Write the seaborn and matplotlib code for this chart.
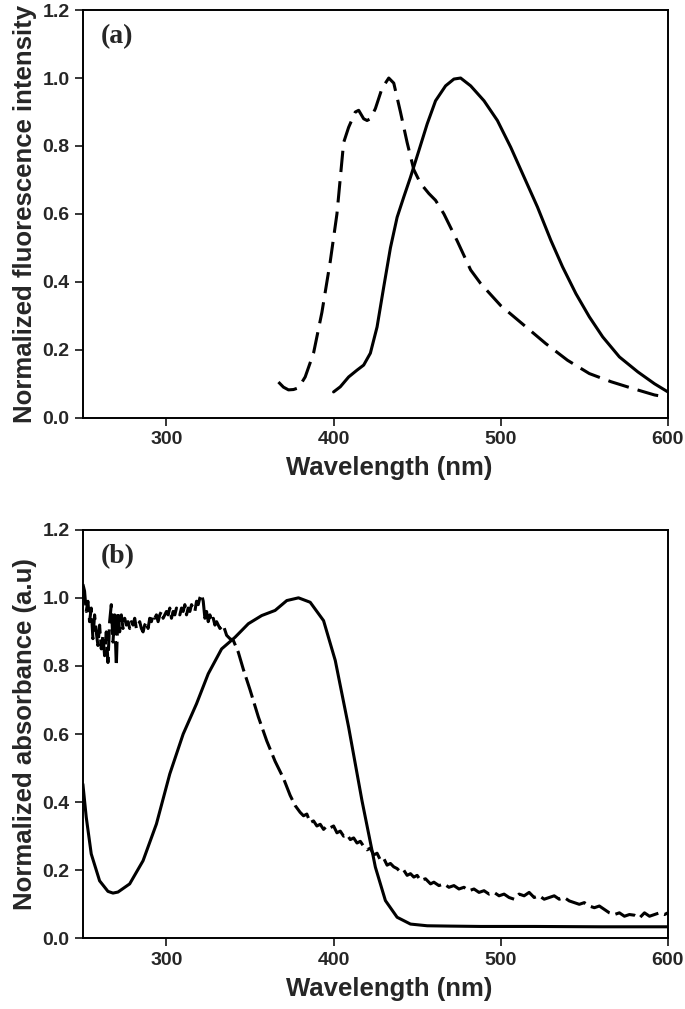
import numpy as np
import pandas as pd
import matplotlib
matplotlib.use("Agg")
import matplotlib.pyplot as plt
import seaborn as sns

# ---- panel (a): fluorescence ----
exc_wl = [367, 370, 373, 376, 379, 383, 388, 393, 398, 402, 406, 409, 413, 415,
          418, 420, 422, 425, 429, 433, 436, 440, 444, 448, 452, 457, 461, 466,
          474, 482, 488, 500, 514, 527, 540, 553, 566, 579, 592, 600]
exc_int = [0.105, 0.09, 0.082, 0.083, 0.088, 0.12, 0.19, 0.31, 0.46, 0.60, 0.81,
           0.855, 0.90, 0.905, 0.88, 0.875, 0.88, 0.91, 0.97, 1.0, 0.985, 0.90,
           0.81, 0.73, 0.69, 0.66, 0.64, 0.60, 0.52, 0.435, 0.395, 0.33, 0.272,
           0.218, 0.169, 0.13, 0.106, 0.086, 0.067, 0.06]

em_wl = [400, 404, 409, 414, 418, 422, 426, 430, 434, 438, 442, 446, 451, 456,
         461, 467, 472, 476, 482, 490, 498, 506, 514, 522, 530, 537, 545, 553,
         561, 571, 582, 592, 600]
em_int = [0.076, 0.091, 0.12, 0.14, 0.155, 0.19, 0.267, 0.385, 0.50, 0.59,
          0.65, 0.708, 0.786, 0.865, 0.933, 0.977, 0.997, 1.0, 0.977, 0.933,
          0.875, 0.796, 0.708, 0.62, 0.522, 0.444, 0.365, 0.297, 0.238, 0.179,
          0.135, 0.10, 0.076]

# ---- panel (b): absorbance ----
abs1_wl = [250, 252, 255, 260, 265, 268, 271, 278, 286, 294, 302, 310, 318, 325,
           333, 341, 349, 357, 365, 372, 379, 386, 394, 401, 409, 417, 425, 431,
           438, 446, 456, 470, 488, 520, 560, 600]
abs1_val = [0.453, 0.356, 0.248, 0.169, 0.138, 0.133, 0.136, 0.16, 0.228, 0.336,
            0.483, 0.60, 0.689, 0.777, 0.85, 0.884, 0.924, 0.948, 0.963, 0.992,
            1.0, 0.987, 0.933, 0.816, 0.62, 0.404, 0.209, 0.111, 0.062, 0.042,
            0.037, 0.036, 0.035, 0.035, 0.034, 0.034]

abs2_wl = list(range(250, 331)) + [
    332, 334, 336, 338, 340, 343, 346, 350, 355, 360, 365, 370, 374, 377, 380,
    382, 384, 386, 388, 390, 392, 394, 396, 398, 400, 402, 404, 406, 408, 410,
    412, 414, 416, 418, 420, 422, 424, 426, 428, 430, 432, 434, 436, 438, 440,
    442, 444, 446, 448, 450, 452, 455, 458, 460, 463, 466, 469, 472, 475, 478,
    481, 484, 487, 490, 493, 496, 499, 502, 505, 508, 511, 514, 517, 520, 523,
    526, 529, 532, 535, 538, 541, 544, 547, 550, 553, 556, 559, 562, 565, 568,
    571, 574, 577, 580, 583, 586, 589, 592, 595, 598, 600]
abs2_val = [
    1.04, 1.02, 0.96, 0.99, 0.93, 0.97, 0.88, 0.95, 0.90, 0.86,
    0.92, 0.85, 0.89, 0.83, 0.90, 0.81, 0.93, 0.98, 0.87, 0.95,
    0.80, 0.96, 0.90, 0.95, 0.91, 0.94, 0.92, 0.93, 0.91, 0.93,
    0.92, 0.94, 0.91, 0.92, 0.93, 0.91, 0.90, 0.92, 0.93, 0.91,
    0.94, 0.93, 0.95, 0.94, 0.95, 0.93, 0.95, 0.96, 0.94, 0.95,
    0.96, 0.95, 0.97, 0.94, 0.96, 0.95, 0.97, 0.96, 0.95, 0.97,
    0.96, 0.98, 0.95, 0.97, 0.96, 0.98, 0.97, 0.96, 0.99, 0.98,
    1.00, 1.01, 0.99, 0.94, 0.96, 0.93, 0.95, 0.93, 0.94, 0.92,
    0.93,
    0.91, 0.92, 0.89, 0.88, 0.875, 0.84, 0.79, 0.73, 0.65, 0.58, 0.52, 0.47,
    0.42, 0.39, 0.37, 0.36, 0.365, 0.34, 0.345, 0.33, 0.335, 0.32, 0.33, 0.325,
    0.33, 0.31, 0.315, 0.30, 0.305, 0.29, 0.295, 0.28, 0.285, 0.27, 0.26,
    0.265, 0.245, 0.25, 0.23, 0.235, 0.215, 0.22, 0.21, 0.205, 0.195, 0.20,
    0.185, 0.19, 0.18, 0.185, 0.17, 0.175, 0.16, 0.165, 0.155, 0.16, 0.15,
    0.155, 0.145, 0.15, 0.14, 0.145, 0.135, 0.14, 0.13, 0.135, 0.125, 0.13,
    0.12, 0.115, 0.13, 0.125, 0.135, 0.12, 0.125, 0.115, 0.12, 0.125, 0.115,
    0.12, 0.11, 0.105, 0.10, 0.105, 0.095, 0.09, 0.095, 0.085, 0.075, 0.07,
    0.075, 0.065, 0.07, 0.068, 0.06, 0.075, 0.065, 0.07, 0.075, 0.07, 0.075]

x_ticks = [300, 400, 500, 600]
y_ticks = [0.0, 0.2, 0.4, 0.6, 0.8, 1.0, 1.2]

sns.set_style("ticks")
plt.rcParams['font.family'] = ['Liberation Sans', 'DejaVu Sans']

fig = plt.figure(figsize=(6.85, 10.09), dpi=100)
ax_a = fig.add_axes([0.121, 0.586, 0.854, 0.404])
ax_b = fig.add_axes([0.121, 0.070, 0.854, 0.405])


def style_axes(ax, ylabel, tag):
    ax.set_xlim(250, 600)
    ax.set_ylim(0, 1.2)
    ax.set_xticks(x_ticks)
    ax.set_yticks(y_ticks)
    ax.set_yticklabels([f"{v:.1f}" for v in y_ticks])
    ax.tick_params(direction='out', length=6, width=1.3, labelsize=14,
                   top=False, right=False)
    for lab in ax.get_xticklabels() + ax.get_yticklabels():
        lab.set_fontweight('bold')
    for sp in ax.spines.values():
        sp.set_visible(True)
        sp.set_linewidth(1.4)
        sp.set_color('black')
    ax.set_xlabel("Wavelength (nm)", fontsize=18.5, fontweight='bold', labelpad=6)
    ax.xaxis.label.set_x(0.523)
    ax.set_ylabel(ylabel, fontsize=18.5, fontweight='bold', labelpad=4)
    ax.text(0.03, 0.965, tag, transform=ax.transAxes, ha='left', va='top',
            fontsize=20, fontweight='bold', family='Liberation Serif')


sns.lineplot(x=exc_wl, y=exc_int, ax=ax_a, color='black', lw=2.2,
             linestyle=(0, (7, 3)))
sns.lineplot(x=em_wl, y=em_int, ax=ax_a, color='black', lw=2.2)
style_axes(ax_a, "Normalized fluorescence intensity", "(a)")

sns.lineplot(x=abs2_wl, y=abs2_val, ax=ax_b, color='black', lw=2.2,
             linestyle=(0, (7, 2)))
sns.lineplot(x=abs1_wl, y=abs1_val, ax=ax_b, color='black', lw=2.2)
style_axes(ax_b, "Normalized absorbance (a.u)", "(b)")

fig.savefig("out.png", dpi=100)
